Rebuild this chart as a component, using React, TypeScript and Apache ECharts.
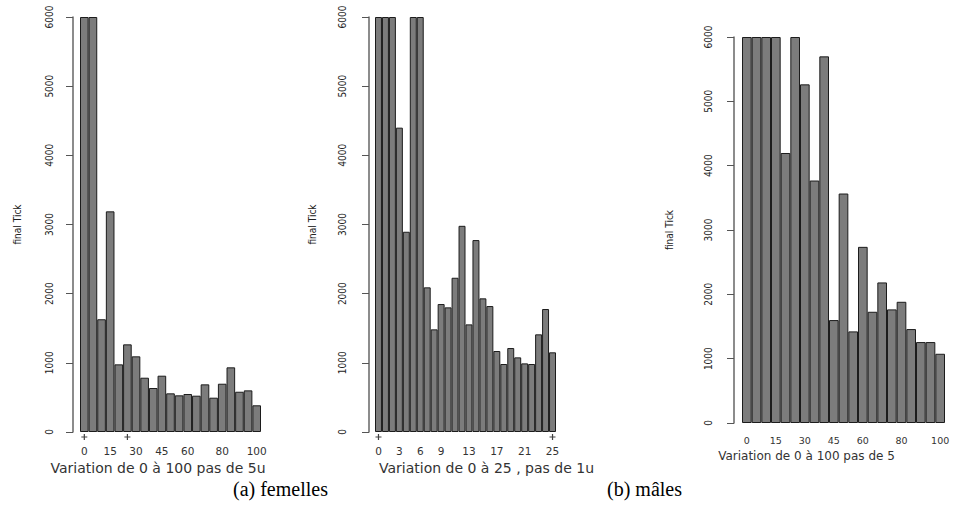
import React, { useEffect, useRef } from "react";
import * as echarts from "echarts";

// ---------- data ----------
const categories100 = ["0", "5", "10", "15", "20", "25", "30", "35", "40", "45", "50", "55", "60", "65", "70", "75", "80", "85", "90", "95", "100"];
const categories25 = ["0", "1", "2", "3", "4", "5", "6", "7", "8", "9", "10", "11", "12", "13", "14", "15", "16", "17", "18", "19", "20", "21", "22", "23", "24", "25"];

const femValues100 = [6000, 6000, 1630, 3190, 978, 1267, 1094, 785, 636, 814, 559, 530, 549, 525, 689, 496, 698, 935, 582, 602, 386];
const femValues25 = [6000, 6000, 6000, 4400, 2895, 6000, 6000, 2091, 1484, 1850, 1802, 2230, 2981, 1556, 2775, 1932, 1821, 1171, 983, 1214, 1079, 992, 983, 1412, 1778, 1152];
const maleValues100 = [6000, 6000, 6000, 6000, 4197, 6000, 5264, 3769, 5699, 1600, 3567, 1424, 2738, 1729, 2185, 1766, 1884, 1460, 1258, 1258, 1076];

const shownLabels100 = ["0", "15", "30", "45", "60", "80", "100"];
const shownLabels25 = ["0", "3", "6", "9", "13", "17", "21", "25"];

const plusMarks100 = ["0", "25"];
const plusMarks25 = ["0", "25"];

const yMin = 0;
const yMax = 6000;
const yStep = 1000;

const titleFem100 = "Variation de 0 à 100 pas de 5u";
const titleFem25 = "Variation de 0 à 25 , pas de 1u";
const titleMale100 = "Variation de 0 à 100 pas de 5";
const yName = "final Tick";
const captionA = "(a) femelles";
const captionB = "(b) mâles";

// ---------- styles ----------
const narrow = "'Liberation Sans Narrow', 'DejaVu Sans Condensed', sans-serif";
const wide = "'DejaVu Sans', Verdana, sans-serif";
const barStyle = { color: "#7c7c7c", borderColor: "#1c1c1c", borderWidth: 1 };
const plusPath = "path://M2,0H3V5H2ZM0,2H5V3H0Z";

function makeX(gridIndex: number, cats: string[], shown: string[], name: string, fontSize: number, margin: number, nameGap: number, nameFont: number, padding: number[]) {
  return {
    type: "category",
    gridIndex,
    data: cats,
    boundaryGap: true,
    axisLine: { show: false },
    axisTick: { show: false },
    axisLabel: {
      interval: (_i: number, v: string) => shown.includes(v),
      fontFamily: wide,
      fontSize,
      color: "#333",
      margin,
    },
    name,
    nameLocation: "middle",
    nameGap,
    nameTextStyle: { fontFamily: wide, fontSize: nameFont, color: "#333", padding },
  };
}

function makeY(gridIndex: number, offset: number, labelMargin: number, nameGap: number) {
  return {
    type: "value",
    gridIndex,
    min: yMin,
    max: yMax,
    interval: yStep,
    offset,
    splitLine: { show: false },
    axisLine: { show: true, lineStyle: { color: "#666", width: 1.5 } },
    axisTick: { show: true, length: 7, lineStyle: { color: "#555", width: 1 } },
    axisLabel: {
      rotate: 90,
      fontFamily: narrow,
      fontSize: 10,
      color: "#222",
      margin: labelMargin,
      formatter: (v: number) => String(v),
    },
    name: yName,
    nameLocation: "middle",
    nameGap,
    nameTextStyle: { fontFamily: narrow, fontSize: 10, color: "#222" },
  };
}

export default function App() {
  const ref = useRef<HTMLDivElement>(null);
  useEffect(() => {
    if (!ref.current) return;
    const chart = echarts.init(ref.current, undefined, { renderer: "svg" });
    chart.setOption({
      animation: false,
      backgroundColor: "#fff",
      grid: [
        { left: 80, top: 17, width: 181, height: 415 },
        { left: 375, top: 17, width: 181, height: 415 },
        { left: 742, top: 37, width: 203, height: 386 },
      ],
      xAxis: [
        makeX(0, categories100, shownLabels100, titleFem100, 10.5, 13, 22, 14, [0, 25, 0, 0]),
        makeX(1, categories25, shownLabels25, titleFem25, 10.5, 13, 22, 14, [0, 0, 0, 42]),
        makeX(2, categories100, shownLabels100, titleMale100, 9.5, 12, 21, 12, [0, 74, 0, 0]),
      ],
      yAxis: [makeY(0, 7, 19, 51), makeY(1, 6, 22, 52), makeY(2, 8, 21, 60)],
      series: [
        { type: "bar", xAxisIndex: 0, yAxisIndex: 0, data: femValues100, barCategoryGap: "0%", itemStyle: barStyle },
        { type: "bar", xAxisIndex: 1, yAxisIndex: 1, data: femValues25, barCategoryGap: "0%", itemStyle: barStyle },
        { type: "bar", xAxisIndex: 2, yAxisIndex: 2, data: maleValues100, barCategoryGap: "0%", itemStyle: barStyle },
        {
          type: "scatter", xAxisIndex: 0, yAxisIndex: 0, clip: false, z: 5,
          symbol: plusPath, symbolSize: 6, symbolOffset: [0, 5],
          itemStyle: { color: "#111" },
          data: plusMarks100.map((c) => [c, 0]),
        },
        {
          type: "scatter", xAxisIndex: 1, yAxisIndex: 1, clip: false, z: 5,
          symbol: plusPath, symbolSize: 6, symbolOffset: [0, 5],
          itemStyle: { color: "#111" },
          data: plusMarks25.map((c) => [c, 0]),
        },
      ],
      graphic: [
        {
          type: "text", left: 233, top: 479,
          style: { text: captionA, fontFamily: "'Liberation Serif', 'Times New Roman', serif", fontSize: 20, fill: "#000" },
        },
        {
          type: "text", left: 607, top: 479,
          style: { text: captionB, fontFamily: "'Liberation Serif', 'Times New Roman', serif", fontSize: 20, fill: "#000" },
        },
      ],
    });
    return () => chart.dispose();
  }, []);
  return <div ref={ref} style={{ position: "fixed", left: 0, top: 0, width: 955, height: 508 }} />;
}
